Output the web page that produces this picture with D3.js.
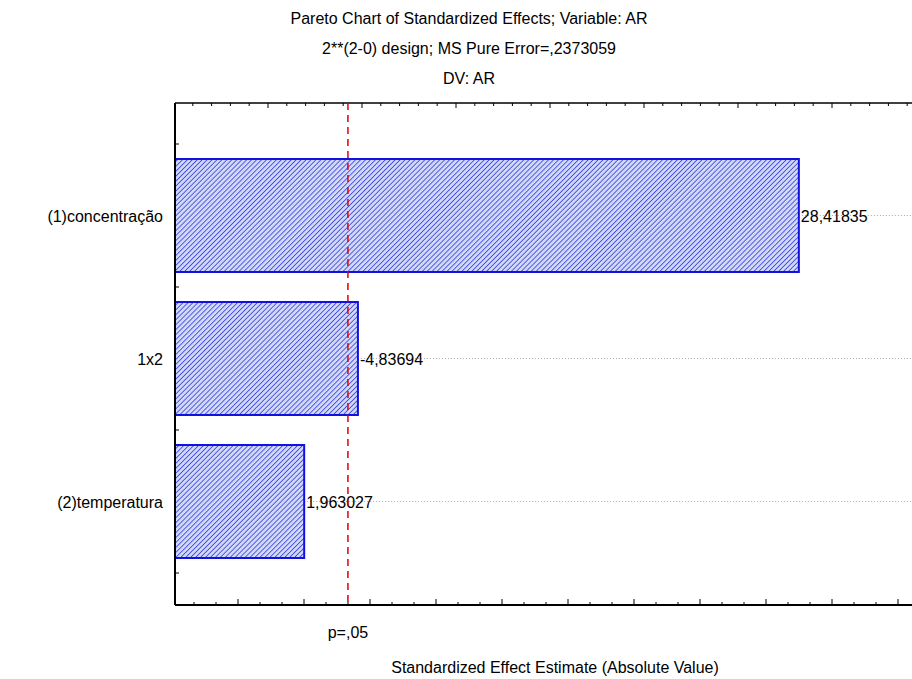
<!DOCTYPE html>
<html><head><meta charset="utf-8">
<script src="https://cdn.jsdelivr.net/npm/d3@7"></script>
<style>body{margin:0;background:#fff;font-family:Arial,"Liberation Sans",sans-serif;}</style>
</head><body><div id="chart"></div>
<script>
const effects = ["(1)concentração", "1x2", "(2)temperatura"];
const values = [28.41835, 4.83694, 1.963027];
const labels = ["28,41835", "-4,83694", "1,963027"];
const pCrit = 4.302653;
const titles = ["Pareto Chart of Standardized Effects; Variable: AR",
  "2**(2-0) design; MS Pure Error=,2373059", "DV: AR"];

const W = 912, H = 679;
const plotL = 175, plotT = 103, plotB = 605, plotR = 930;

const svg = d3.select('#chart').append('svg').attr('width', W).attr('height', H);

const defs = svg.append('defs');
const pat = defs.append('pattern').attr('id', 'hatch').attr('patternUnits', 'userSpaceOnUse')
  .attr('width', 3.5).attr('height', 3.5).attr('patternTransform', 'rotate(45)');
pat.append('rect').attr('width', 3.5).attr('height', 3.5).attr('fill', '#d4d8f8');
pat.append('line').attr('x1', 0).attr('y1', 0).attr('x2', 0).attr('y2', 3.5)
  .attr('stroke', '#3040e0').attr('stroke-width', 1.6);

const x = d3.scaleLinear().domain([-4.946, 34.47]).range([plotL, 912]);
const y = d3.scaleBand().domain(effects).range([144, 573]).paddingInner(0.21).paddingOuter(0.105);

// gridlines
svg.selectAll('.grid').data(effects).join('line')
  .attr('x1', (d, i) => x(values[i])).attr('x2', plotR)
  .attr('y1', d => y(d) + y.bandwidth() / 2).attr('y2', d => y(d) + y.bandwidth() / 2)
  .attr('stroke', '#aaa').attr('stroke-dasharray', '1,2');

svg.selectAll('.bar').data(effects).join('rect')
  .attr('x', plotL).attr('y', d => y(d))
  .attr('width', (d, i) => x(values[i]) - plotL).attr('height', y.bandwidth())
  .attr('fill', 'url(#hatch)').attr('stroke', '#1010e0').attr('stroke-width', 2);

svg.selectAll('.val').data(effects).join('text')
  .attr('x', (d, i) => x(values[i]) + 2).attr('y', d => y(d) + y.bandwidth() / 2 + 6)
  .attr('font-size', 16).text((d, i) => labels[i]);

svg.selectAll('.cat').data(effects).join('text')
  .attr('x', 163).attr('y', d => y(d) + y.bandwidth() / 2 + 6)
  .attr('text-anchor', 'end').attr('font-size', 16).text(d => d);

// axes frame
const ax = svg.append('g').attr('stroke', '#000');
ax.append('line').attr('x1', plotL).attr('x2', plotR).attr('y1', plotB).attr('y2', plotB).attr('stroke-width', 2);
ax.append('line').attr('x1', plotL).attr('x2', plotR).attr('y1', plotT).attr('y2', plotT).attr('stroke-width', 1.5);
ax.append('line').attr('x1', plotL).attr('x2', plotL).attr('y1', plotT).attr('y2', plotB).attr('stroke-width', 2);

// unlabelled ticks
const bt = d3.range(0, 34).map(k => 172 + 22 * k).filter(v => v > plotL);
ax.selectAll('.bt').data(bt).join('line')
  .attr('x1', d => d).attr('x2', d => d)
  .attr('y1', d => plotB - ((Math.round((d - 172) / 22) % 3 === 0) ? 6 : 3)).attr('y2', plotB);
const tt = d3.range(0, 40).map(k => 174 + 18.8 * k).filter(v => v > plotL + 5);
ax.selectAll('.tt').data(tt).join('line')
  .attr('x1', d => d).attr('x2', d => d)
  .attr('y1', plotT).attr('y2', d => plotT + ((Math.round((d - 174) / 18.8) % 5 === 0) ? 5 : 3));
ax.selectAll('.lt').data([144, 287, 430, 573]).join('line')
  .attr('x1', plotL).attr('x2', plotL + 4).attr('y1', d => d).attr('y2', d => d);

svg.append('line').attr('x1', x(pCrit)).attr('x2', x(pCrit)).attr('y1', plotT).attr('y2', plotB)
  .attr('stroke', '#e00000').attr('stroke-width', 1.5).attr('stroke-dasharray', '7,5');
svg.append('text').attr('x', x(pCrit)).attr('y', 638).attr('text-anchor', 'middle')
  .attr('font-size', 16).text('p=,05');

svg.selectAll('.title').data(titles).join('text')
  .attr('x', 469).attr('y', (d, i) => 24 + i * 30).attr('text-anchor', 'middle')
  .attr('font-size', 16).text(d => d);
svg.append('text').attr('x', 555).attr('y', 673).attr('text-anchor', 'middle')
  .attr('font-size', 16).text('Standardized Effect Estimate (Absolute Value)');
</script></body></html>
